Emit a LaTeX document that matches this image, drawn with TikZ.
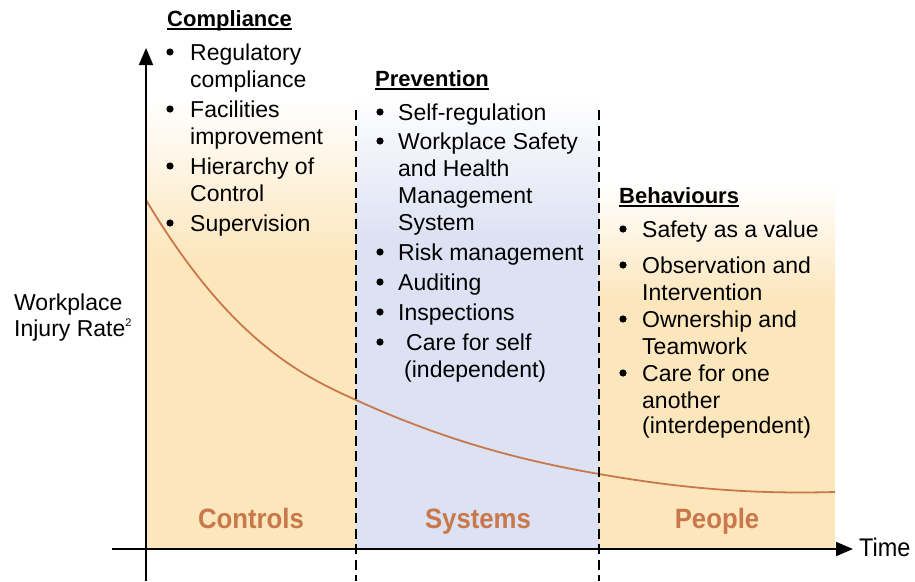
\documentclass[tikz,border=0pt]{standalone}
\usepackage{fontspec}
\setmainfont{Liberation Sans}
\newfontfamily\condfont[FakeStretch=0.92]{Liberation Sans}
\usetikzlibrary{arrows.meta}
\definecolor{peach}{RGB}{252,230,188}
\definecolor{lav}{RGB}{220,225,243}
\definecolor{rust}{RGB}{200,120,75}
\begin{document}
\begin{tikzpicture}[x=1pt,y=-1pt,
 txt/.style={anchor=base west, inner sep=0pt, font=\fontsize{23}{27}\selectfont},
 head/.style={anchor=base west, inner sep=0pt, font=\fontsize{22}{27}\selectfont\bfseries},
 zone/.style={anchor=base, inner sep=0pt, text=rust, font=\condfont\fontsize{28}{30}\selectfont\bfseries},
 axisline/.style={line width=1.8pt, -{Triangle[length=17pt,width=14pt]}},
 divider/.style={line width=1.6pt, dash pattern=on 10pt off 5.5pt},
 curve/.style={rust, line width=1.8pt},
 uline/.style={line width=1.4pt},
 bul/.style={fill=black},
 ]
\useasboundingbox (0,0) rectangle (915,581);
% background bands
\fill[peach] (146,258) rectangle (356,549);
\shade[top color=white, bottom color=peach] (146,100) rectangle (356,260);
\fill[lav] (356,238) rectangle (599,549);
\shade[top color=white, bottom color=lav] (356,95) rectangle (599,240);
\fill[peach] (599,298) rectangle (835,549);
\shade[top color=white, bottom color=peach] (599,185) rectangle (835,300);
% curve
\coordinate (k0) at (146,200);
\coordinate (k1) at (356,400);
\coordinate (k2) at (599,474);
\coordinate (k3) at (835,492);
\draw[curve] (k0) .. controls (230,340) and (300,375) .. (k1)
  .. controls (450,443) and (530,462) .. (k2)
  .. controls (690,490) and (760,494) .. (k3);
% dividers
\coordinate (d1t) at (356,110); \coordinate (d1b) at (356,581);
\coordinate (d2t) at (599,110); \coordinate (d2b) at (599,581);
\draw[divider] (d1t) -- (d1b);
\draw[divider] (d2t) -- (d2b);
% axes
\coordinate (yb) at (146,581); \coordinate (yt) at (146,48);
\coordinate (xl) at (112,549); \coordinate (xr) at (853,549);
\draw[axisline] (yb) -- (yt);
\draw[axisline] (xl) -- (xr);
\node[anchor=base west, inner sep=0pt, font=\condfont\fontsize{25.5}{27}\selectfont] (time) at (859,556) {Time};
\node[txt] (yl1) at (14,310) {Workplace};
\node[txt] (yl2) at (14,336) {Injury Rate\textsuperscript{\fontsize{11}{11}\selectfont 2}};
% zone labels
\node[zone] (z1) at (251,528) {Controls};
\node[zone] (z2) at (478,528) {Systems};
\node[zone] (z3) at (717,528) {People};
% headings
\node[head] (h1) at (167,26) {Compliance};
\node[head] (h2) at (375,86) {Prevention};
\node[head] (h3) at (619,203) {Behaviours};
\foreach \h in {h1,h2,h3}
  \draw[uline] ([yshift=-3pt]\h.base west) -- ([yshift=-3pt]\h.base east);
% compliance list
\foreach \n/\x/\y/\t in {c1/190/60/{Regulatory}, c2/190/87/{compliance}, c3/190/117/{Facilities},
  c4/190/144/{improvement}, c5/190/174/{Hierarchy of}, c6/190/201/{Control}, c7/190/231/{Supervision}}
  \node[txt] (\n) at (\x,\y) {\t};
\foreach \y in {60,117,174,231}
  \fill[bul] (170,\y-8) circle (3.6pt);
% prevention list
\foreach \n/\x/\y/\t in {p1/398/120/{Self-regulation}, p2/398/149/{Workplace Safety}, p3/398/176/{and Health},
  p4/398/203/{Management}, p5/398/230/{System}, p6/398/260/{Risk management}, p7/398/290/{Auditing},
  p8/398/320/{Inspections}, p9/406/350/{Care for self}, p10/404/377/{(independent)}}
  \node[txt] (\n) at (\x,\y) {\t};
\foreach \y in {120,149,260,290,320,350}
  \fill[bul] (380,\y-8) circle (3.6pt);
% behaviours list
\foreach \n/\x/\y/\t in {b1/642/237/{Safety as a value}, b2/642/273/{Observation and}, b3/642/300/{Intervention},
  b4/642/327/{Ownership and}, b5/642/354/{Teamwork}, b6/642/381/{Care for one}, b7/642/408/{another},
  b8/642/433/{(interdependent)}}
  \node[txt] (\n) at (\x,\y) {\t};
\foreach \y in {237,273,327,381}
  \fill[bul] (623,\y-8) circle (3.6pt);
\end{tikzpicture}
\end{document}
